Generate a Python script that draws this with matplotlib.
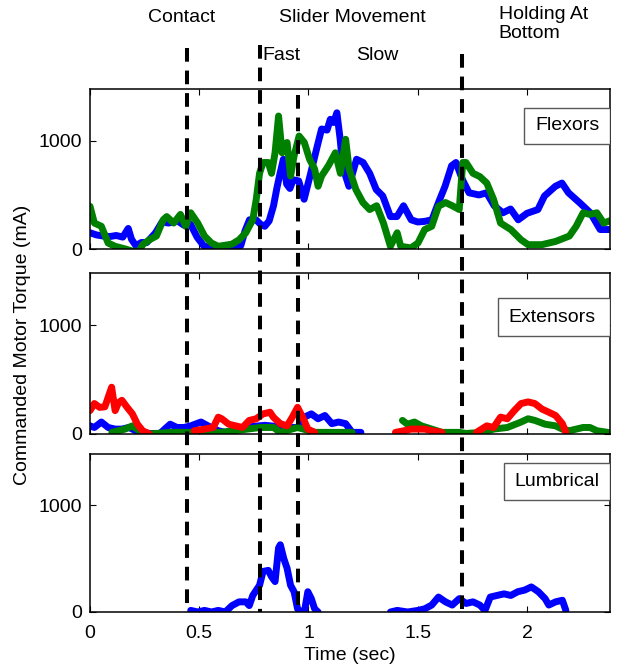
import numpy as np
import matplotlib
matplotlib.use("Agg")
import matplotlib.pyplot as plt
from matplotlib.lines import Line2D
from matplotlib.patches import Rectangle
import matplotlib.transforms as mtransforms

plt.rcParams['font.family'] = ['Liberation Sans', 'DejaVu Sans']
plt.rcParams['font.size'] = 14

nan = np.nan

# ---- Flexors (top panel) ----
flex_blue_t = [0.00, 0.03, 0.06, 0.09, 0.12, 0.15, 0.175, 0.19, 0.21, 0.235, 0.26, 0.30, 0.33, 0.36,
               0.40, 0.43, 0.46, 0.49, 0.52, 0.55, 0.60, 0.65, 0.69, 0.71, 0.73, 0.76, 0.78, 0.80,
               0.82, 0.84, 0.855, 0.87, 0.885, 0.90, 0.915, 0.93, 0.955, 0.98, 0.995, 1.01, 1.04,
               1.06, 1.085, 1.10, 1.115, 1.13, 1.145, 1.155, 1.17, 1.185, 1.22, 1.25, 1.28, 1.31,
               1.34, 1.375, 1.405, 1.435, 1.47, 1.50, 1.53, 1.565, 1.595, 1.625, 1.655, 1.675,
               1.705, 1.735, 1.78, 1.815, 1.85, 1.89, 1.925, 1.96, 2.00, 2.05, 2.08, 2.13, 2.16,
               2.19, 2.24, 2.29, 2.335, 2.38]
flex_blue_v = [150, 130, 120, 115, 125, 110, 190, 90, 30, 60, 60, 150, 250, 240,
               260, 220, 230, 110, 30, 10, 15, 10, 30, 170, 270, 270, 230, 210,
               260, 400, 560, 700, 830, 600, 560, 640, 630, 460, 580, 700, 950,
               1110, 1100, 1200, 1170, 1260, 1015, 800, 675, 580, 830, 800, 700, 550,
               490, 300, 300, 400, 270, 250, 255, 270, 430, 580, 770, 800,
               640, 520, 500, 520, 400, 335, 370, 270, 330, 365, 490, 580, 610,
               520, 430, 335, 180, 180]

flex_green_t = [0.00, 0.02, 0.052, 0.083, 0.115, 0.162, 0.194, 0.225, 0.241, 0.272, 0.304, 0.335,
                0.351, 0.383, 0.414, 0.438, 0.461, 0.493, 0.524, 0.556, 0.587, 0.619, 0.65,
                0.682, 0.713, 0.745, 0.761, 0.776, 0.792, 0.816, 0.831, 0.847, 0.863, 0.879,
                0.902, 0.918, 0.934, 0.957, 0.981, 1.005, 1.028, 1.044, 1.06, 1.091, 1.123,
                1.146, 1.17, 1.186, 1.217, 1.249, 1.28, 1.312, 1.343, 1.375, 1.406, 1.422,
                1.469, 1.501, 1.532, 1.564, 1.595, 1.627, 1.658, 1.69, 1.706, 1.721, 1.753,
                1.784, 1.816, 1.847, 1.879, 1.926, 1.973, 2.005, 2.068, 2.131, 2.194, 2.225,
                2.257, 2.288, 2.32, 2.351, 2.378]
flex_green_v = [395, 240, 210, 55, 25, 0, -20, -20, 40, 85, 120, 270,
                300, 240, 320, 210, 335, 240, 120, 55, 25, 35, 45,
                85, 150, 270, 460, 700, 800, 800, 700, 890, 1230, 890,
                985, 675, 860, 1045, 985, 830, 740, 580, 675, 770, 890,
                700, 1015, 740, 550, 430, 365, 400, 240, 25, 150, 25,
                10, 55, 180, 210, 395, 430, 400, 365, 800, 800, 700,
                670, 610, 460, 240, 180, 85, 40, 40, 70, 120, 210,
                335, 320, 335, 240, 260]

# ---- Extensors (middle panel) ----
ext_red_t = [0.00, 0.02, 0.044, 0.068, 0.099, 0.115, 0.131, 0.146, 0.17, 0.194, 0.217, 0.241, 0.272,
             0.30,
             0.477, 0.524, 0.564, 0.587, 0.603, 0.635, 0.666, 0.698, 0.729, 0.761, 0.792, 0.824,
             0.839, 0.871, 0.902, 0.926, 0.95, 0.973, 0.997, 1.028,
             1.10,
             1.398, 1.438, 1.469, 1.532, 1.564, 1.611,
             1.70,
             1.769, 1.816, 1.847, 1.879, 1.91, 1.942, 1.973, 2.005, 2.036, 2.068, 2.10, 2.131,
             2.162, 2.178]
ext_red_v = [215, 280, 245, 250, 430, 215, 290, 310, 245, 185, 90, 30, 0,
             nan,
             30, 45, 60, 155, 140, 90, 75, 60, 125, 140, 185, 200,
             155, 95, 75, 155, 245, 155, 45, 15,
             nan,
             15, 30, 45, 45, 30, 15,
             nan,
             15, 75, 60, 155, 140, 215, 280, 295, 280, 230, 200, 170,
             95, 15]

ext_blue_t = [0.00, 0.02, 0.052, 0.083, 0.115, 0.146, 0.178, 0.21, 0.272, 0.32, 0.367, 0.398, 0.43,
              0.461, 0.508, 0.54, 0.587, 0.62, 0.70, 0.80, 0.90, 0.95, 0.981, 1.013, 1.044,
              1.075, 1.107, 1.138, 1.17, 1.20, 1.24]
ext_blue_v = [75, 60, 110, 60, 45, 45, 60, 30, 5, 5, 90, 60, 60,
              75, 110, 75, 30, 15, 60, 80, 60, 60, 155, 185, 140,
              170, 95, 110, 95, 15, 15]

ext_green_t = [0.10, 0.13, 0.16, 0.194, 0.225, 0.27, 0.37, 0.60, 0.78, 0.84, 0.87, 0.95, 1.03,
               1.20, 1.26, 1.34, 1.35, 1.43, 1.453, 1.485, 1.517, 1.611, 1.69, 1.721, 1.80,
               1.847, 1.91, 1.973, 2.005, 2.036, 2.083, 2.131, 2.162, 2.194, 2.257, 2.288,
               2.32, 2.37]
ext_green_v = [15, 30, 45, 75, 30, 0, 15, 15, 60, 60, 15, 60, 15,
               15, nan, 15, nan, 125, 90, 110, 75, 15, 15, 5, 15,
               45, 60, 110, 140, 125, 90, 75, 45, 30, 60, 60,
               30, 15]

# ---- Lumbrical (bottom panel) ----
lum_blue_t = [0.461, 0.493, 0.524, 0.556, 0.587, 0.619, 0.65, 0.682, 0.713, 0.729, 0.745, 0.776,
              0.792, 0.816, 0.831, 0.847, 0.863, 0.871, 0.887, 0.902, 0.918, 0.934, 0.95, 0.965,
              0.981, 0.997, 1.013, 1.028, 1.044,
              1.20,
              1.375, 1.406, 1.454, 1.501, 1.532, 1.564, 1.595, 1.627, 1.658, 1.69, 1.721, 1.753,
              1.784, 1.808, 1.832, 1.863, 1.895, 1.926, 1.958, 1.989, 2.02, 2.052, 2.083, 2.10,
              2.131, 2.162, 2.178]
lum_blue_v = [15, 0, 15, 0, 15, 0, 60, 95, 95, 60, 155, 250,
              380, 390, 330, 285, 600, 630, 500, 410, 250, 190, 30, 0,
              0, 190, 125, 30, 0,
              nan,
              0, 15, 0, 15, 30, 65, 140, 95, 65, 125, 80, 95,
              65, 15, 140, 155, 170, 155, 190, 205, 235, 190, 125, 65,
              95, 110, 15]

phase_t = [0.443, 0.777, 0.95, 1.703]
phase_top_px = [48, 45, 95, 54]

panels = [
    ("Flexors", [(flex_blue_t, flex_blue_v, 'blue'), (flex_green_t, flex_green_v, 'green')],
     (0.834, 0.656, 0.881), 0.856, 0.769),
    ("Extensors", [(ext_blue_t, ext_blue_v, 'blue'), (ext_green_t, ext_green_v, 'green'),
                   (ext_red_t, ext_red_v, 'red')],
     (0.784, 0.608, 0.844), 0.805, 0.725),
    ("Lumbrical", [(lum_blue_t, lum_blue_v, 'blue')],
     (0.797, 0.708, 0.94), 0.817, 0.825),
]
colors = {'blue': (0, 0, 1), 'green': (0, 0.5, 0), 'red': (1, 0, 0)}

W, H = 625, 668
fig = plt.figure(figsize=(W / 100, H / 100), dpi=100)

# axes rectangles in pixels (left, top, right, bottom)
boxes = [(90, 89, 610, 249), (90, 273, 610, 434), (90, 454, 610, 612)]
axes = []
for (l, t, r, b) in boxes:
    ax = fig.add_axes([l / W, (H - b) / H, (r - l) / W, (b - t) / H])
    axes.append(ax)

for ax, (name, series, box, tx, ty) in zip(axes, panels):
    for t, v, c in series:
        ax.plot(t, v, color=colors[c], lw=5, solid_capstyle='round', solid_joinstyle='round')
    ax.set_xlim(0, 2.38)
    ax.set_ylim(0, 1480)
    ax.set_yticks([0, 1000])
    ax.set_xticks([0, 0.5, 1, 1.5, 2])
    ax.tick_params(direction='in', top=True, right=True, length=4, width=0.8, pad=6)
    for s in ax.spines.values():
        s.set_linewidth(1.1)
    x0, y0, y1 = box
    ax.add_patch(Rectangle((x0, y0), 1 - x0, y1 - y0, transform=ax.transAxes,
                           fc='white', ec='0.35', lw=1, zorder=5))
    ax.text(tx, ty, name, transform=ax.transAxes, ha='left', va='center', zorder=6)

for ax in axes[:2]:
    ax.set_xticklabels([])
axes[2].set_xticklabels(['0', '0.5', '1', '1.5', '2'])
axes[2].tick_params(axis='x', pad=9)
axes[2].set_xlabel('Time (sec)', labelpad=4)

fig.text(23 / W, (H - 345) / H, 'Commanded Motor Torque (mA)', rotation=90,
         ha='center', va='center')

# dashed phase markers spanning the panels
trans = mtransforms.blended_transform_factory(axes[2].transData, fig.transFigure)
for t, top in zip(phase_t, phase_top_px):
    fig.add_artist(Line2D([t, t], [(H - top) / H, (H - 612) / H], transform=trans,
                          color='black', lw=2.9, linestyle=(0, (3.4, 2.2)), zorder=10))

# phase labels
ttrans = mtransforms.blended_transform_factory(axes[0].transData, fig.transFigure)
fig.text(0.42, (H - 18) / H, 'Contact', transform=ttrans, ha='center', va='center')
fig.text(1.20, (H - 18) / H, 'Slider Movement', transform=ttrans, ha='center', va='center')
fig.text(1.87, (H - 24) / H, 'Holding At\nBottom', transform=ttrans, ha='left', va='center',
         linespacing=1.2)
fig.text(0.79, (H - 55) / H, 'Fast', transform=ttrans, ha='left', va='center')
fig.text(1.22, (H - 55) / H, 'Slow', transform=ttrans, ha='left', va='center')

fig.savefig('out.png', dpi=100)
